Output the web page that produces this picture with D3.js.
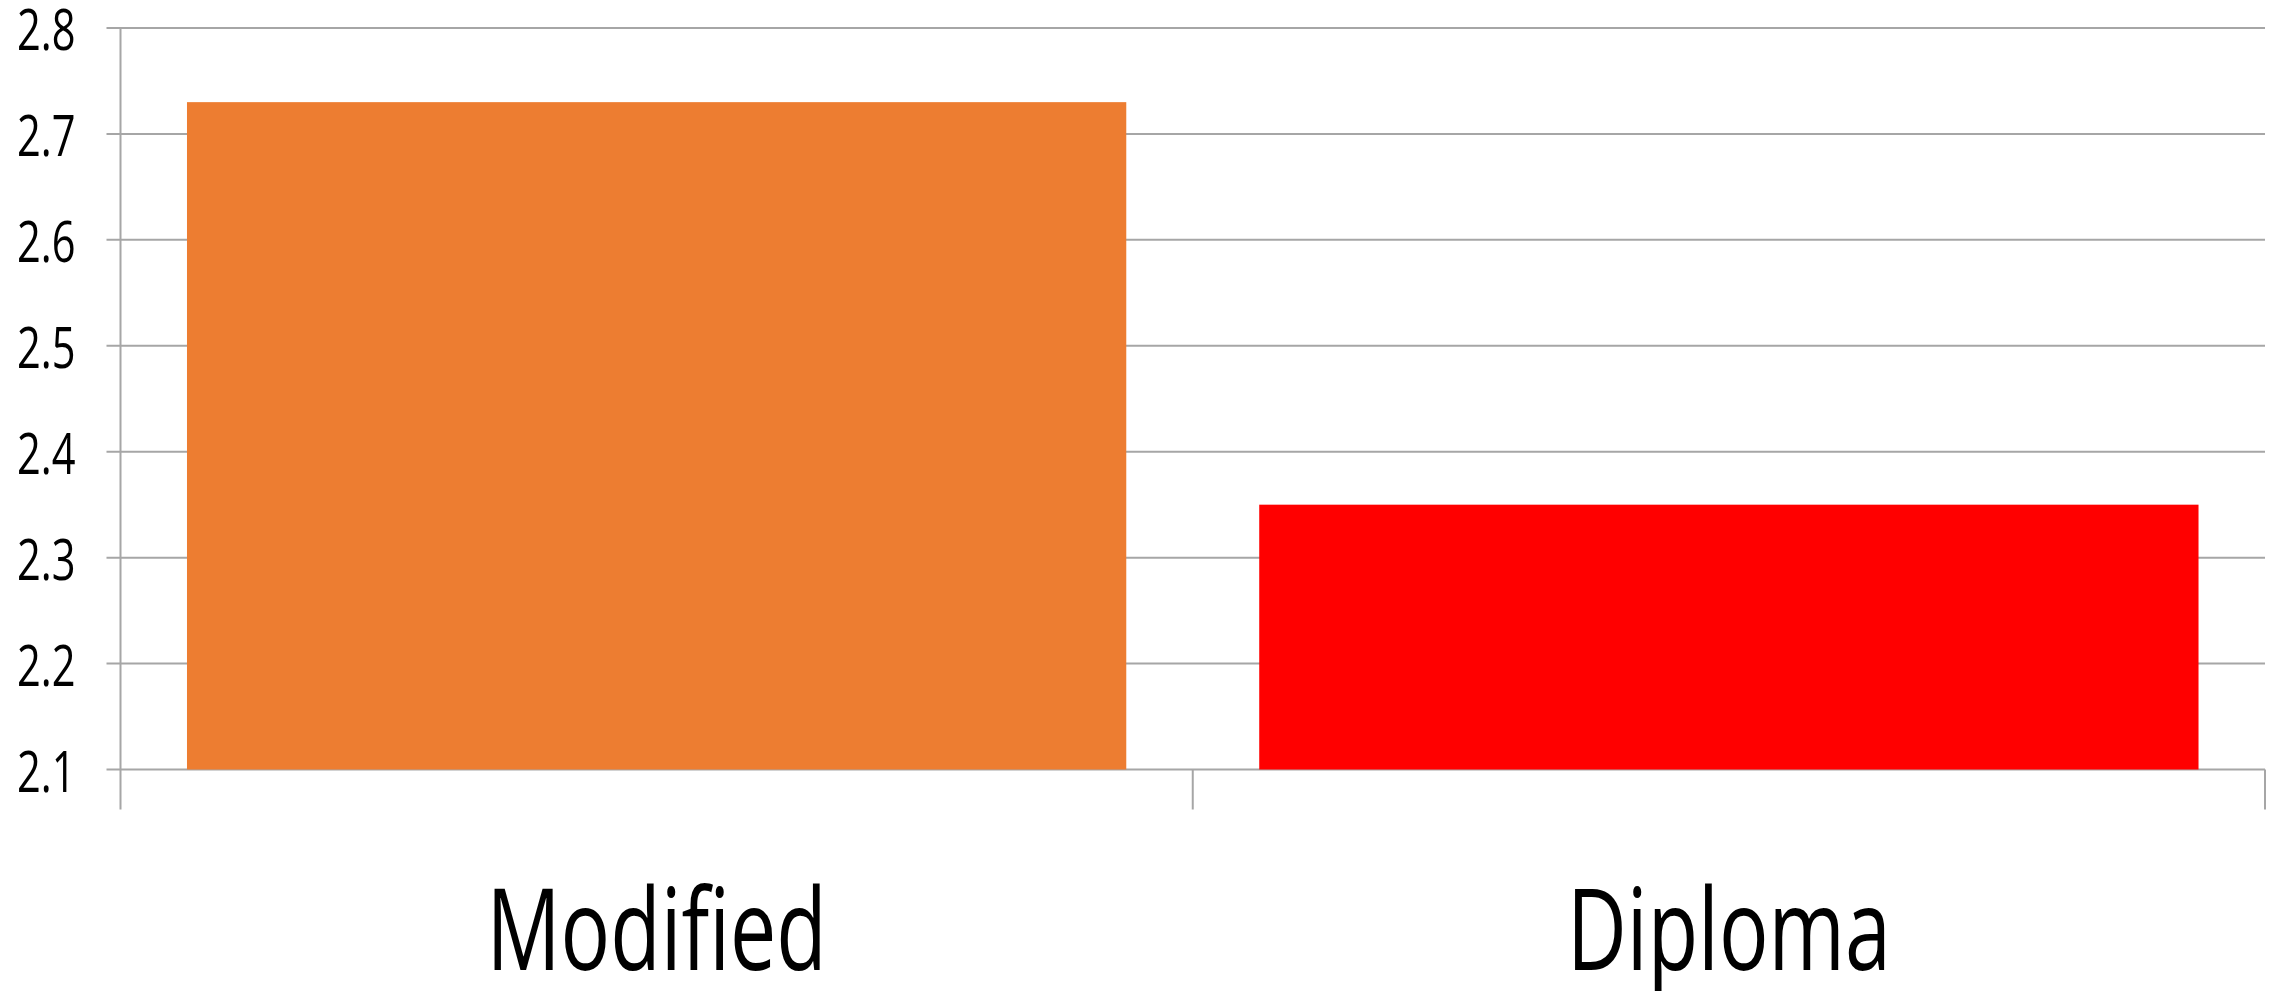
<!DOCTYPE html>
<html>
<head>
<meta charset="utf-8">
<script src="https://cdn.jsdelivr.net/npm/d3@7"></script>
<style>
  body { margin: 0; background: #fff; }
  svg { display: block; }
</style>
</head>
<body>
<div id="chart"></div>
<script>
// chart values
const categories = ["Modified", "Diploma"];
const values = [2.73, 2.35];
const barColors = ["#ED7D31", "#FF0000"];
const yTicks = [2.1, 2.2, 2.3, 2.4, 2.5, 2.6, 2.7, 2.8];

const width = 2280, height = 991;
const margin = { top: 28, right: 15, bottom: 221.5, left: 120.5 };
const innerW = width - margin.left - margin.right;
const innerH = height - margin.top - margin.bottom;
const gridColor = "#a6a6a6";
const font = "'Open Sans', 'Noto Sans', sans-serif";
const squeeze = 0.73; // text in the reference is horizontally compressed

const svg = d3.select("#chart").append("svg")
    .attr("width", width)
    .attr("height", height);

const g = svg.append("g")
    .attr("transform", `translate(${margin.left},${margin.top})`);

const y = d3.scaleLinear()
    .domain([2.1, 2.8])
    .range([innerH, 0]);

// category slots (no padding) and bars inside them
const xCat = d3.scaleBand()
    .domain(categories)
    .range([0, innerW])
    .padding(0);

const xBar = xCat.copy()
    .paddingInner(0.124)
    .paddingOuter(0.062);

// gridlines
g.selectAll("line.grid")
    .data(yTicks)
    .join("line")
    .attr("class", "grid")
    .attr("x1", -14)
    .attr("x2", innerW)
    .attr("y1", d => y(d))
    .attr("y2", d => y(d))
    .attr("stroke", gridColor)
    .attr("stroke-width", 2);

// y labels
g.selectAll("g.ytick")
    .data(yTicks)
    .join("g")
    .attr("class", "ytick")
    .attr("transform", d => `translate(-45,${y(d) + 22}) scale(${squeeze},1)`)
  .append("text")
    .attr("text-anchor", "end")
    .style("font-family", font)
    .style("font-size", "57px")
    .attr("fill", "#000")
    .text(d => d3.format(".1f")(d));

// bars
g.selectAll("rect.bar")
    .data(categories)
    .join("rect")
    .attr("class", "bar")
    .attr("x", d => xBar(d))
    .attr("width", xBar.bandwidth())
    .attr("y", (d, i) => y(values[i]))
    .attr("height", (d, i) => y(2.1) - y(values[i]))
    .attr("fill", (d, i) => barColors[i]);

// y axis line
g.append("line")
    .attr("x1", 0).attr("x2", 0)
    .attr("y1", 0).attr("y2", innerH + 40)
    .attr("stroke", gridColor)
    .attr("stroke-width", 2);

// category separators below axis
const bounds = categories.map(d => xCat(d)).concat([innerW]);
g.selectAll("line.xtick")
    .data(bounds.slice(1))
    .join("line")
    .attr("class", "xtick")
    .attr("x1", d => d).attr("x2", d => d)
    .attr("y1", innerH).attr("y2", innerH + 40)
    .attr("stroke", gridColor)
    .attr("stroke-width", 2);

// category labels
g.selectAll("g.xlabel")
    .data(categories)
    .join("g")
    .attr("class", "xlabel")
    .attr("transform", d => `translate(${xCat(d) + xCat.bandwidth() / 2},${innerH + 200}) scale(${squeeze},1)`)
  .append("text")
    .attr("text-anchor", "middle")
    .style("font-family", font)
    .style("font-size", "113px")
    .attr("fill", "#000")
    .text(d => d);
</script>
</body>
</html>
